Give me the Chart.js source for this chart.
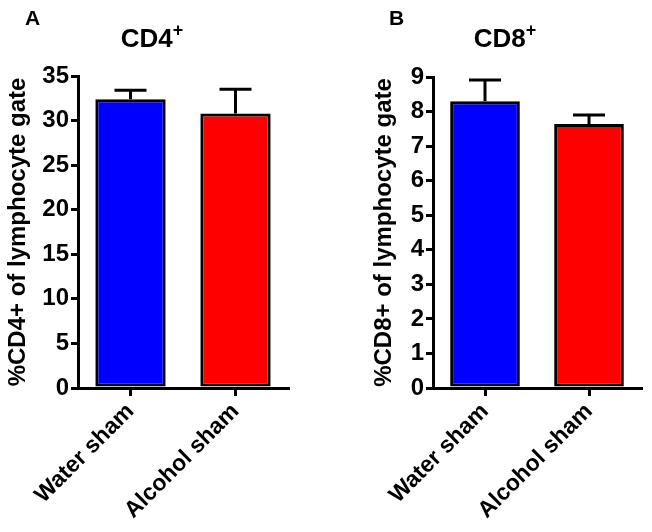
<!DOCTYPE html>
<html>
<head>
<meta charset="utf-8">
<script src="https://cdn.jsdelivr.net/npm/chart.js@4.4.0/dist/chart.umd.min.js"></script>
<style>
    body {
        margin: 0;
        background: #fff;
        font-family: "Liberation Sans", Arial, sans-serif;
    }
    .wrap {
        position: relative;
        width: 652px;
        height: 532px;
        overflow: hidden;
    }
    canvas {
        position: absolute;
        top: 0;
    }
    .letter, .title {
        position: absolute;
        font-weight: bold;
        color: #000;
        line-height: 1;
    }
    .letter {
        font-size: 21px;
        top: 7px;
    }
    .title {
        font-size: 26px;
        top: 25px;
        width: 200px;
        text-align: center;
    }
    .title sup {
        font-size: 18px;
        vertical-align: 0;
        position: relative;
        top: -11px;
    }
</style>
</head>
<body>
<div class="wrap">
    <canvas id="cd4Chart" width="326" height="532" style="left:0"></canvas>
    <canvas id="cd8Chart" width="326" height="532" style="left:326px"></canvas>
    <div class="letter" style="left:25px">A</div>
    <div class="letter" style="left:389px">B</div>
    <div class="title" style="left:52px">CD4<sup>+</sup></div>
    <div class="title" style="left:405px">CD8<sup>+</sup></div>
</div>
<script>
const groups = ["Water sham", "Alcohol sham"];
const barColors = ["#0000ff", "#ff0000"];

const cd4Mean = [32.4, 30.8];
const cd4Sem = [1.0, 2.7];
const cd4Ticks = [0, 5, 10, 15, 20, 25, 30, 35];

const cd8Mean = [8.3, 7.64];
const cd8Sem = [0.61, 0.26];
const cd8Ticks = [0, 1, 2, 3, 4, 5, 6, 7, 8, 9];

// upper error bars only, the lower half is hidden behind the bar
const errorBars = {
    id: "errorBars",
    afterDatasetsDraw(chart, args, opts) {
        const ctx = chart.ctx;
        const yScale = chart.scales.y;
        const meta = chart.getDatasetMeta(0);
        ctx.save();
        ctx.strokeStyle = "#000";
        ctx.lineWidth = 3;
        meta.data.forEach((bar, i) => {
            const top = yScale.getPixelForValue(opts.mean[i] + opts.sem[i]);
            ctx.beginPath();
            ctx.moveTo(bar.x, bar.y);
            ctx.lineTo(bar.x, top);
            ctx.moveTo(bar.x - 16, top);
            ctx.lineTo(bar.x + 16, top);
            ctx.stroke();
        });
        ctx.restore();
    },
};

const makeChart = (id, mean, sem, ticks, yLabel, pad, yWidth) => {
    const ctx = document.getElementById(id).getContext("2d");
    return new Chart(ctx, {
        type: "bar",
        data: {
            labels: groups,
            datasets: [
                {
                    data: mean,
                    backgroundColor: barColors,
                    borderColor: "#000",
                    borderWidth: 3,
                    borderSkipped: false,
                    barPercentage: 0.67,
                    categoryPercentage: 1,
                },
            ],
        },
        options: {
            responsive: false,
            animation: false,
            layout: { padding: pad },
            plugins: {
                legend: { display: false },
                tooltip: { enabled: false },
                errorBars: { mean: mean, sem: sem },
            },
            scales: {
                x: {
                    grid: {
                        offset: false,
                        drawOnChartArea: false,
                        color: "#000",
                        lineWidth: 3,
                        tickLength: 8,
                    },
                    border: { color: "#000", width: 3 },
                    ticks: {
                        autoSkip: false,
                        minRotation: 45,
                        maxRotation: 45,
                        padding: 2,
                        color: "#000",
                        font: { size: 23, weight: "bold", family: "Liberation Sans" },
                    },
                    afterFit: (scale) => {
                        scale.height = 144;
                    },
                },
                y: {
                    min: ticks[0],
                    max: ticks[ticks.length - 1],
                    afterBuildTicks: (scale) => {
                        scale.ticks = ticks.map((v) => ({ value: v }));
                    },
                    grid: {
                        drawOnChartArea: false,
                        color: "#000",
                        lineWidth: 3,
                        tickLength: 7,
                    },
                    border: { color: "#000", width: 3 },
                    ticks: {
                        padding: 2,
                        color: "#000",
                        font: { size: 24, weight: "bold", family: "Liberation Sans" },
                    },
                    title: {
                        display: true,
                        text: yLabel,
                        color: "#000",
                        padding: { top: 4, bottom: 0 },
                        font: { size: 24, weight: "bold", family: "Liberation Sans" },
                    },
                    afterFit: (scale) => {
                        scale.width = yWidth;
                    },
                },
            },
        },
        plugins: [errorBars],
    });
};

makeChart("cd4Chart", cd4Mean, cd4Sem, cd4Ticks, "%CD4+ of lymphocyte gate",
    { left: 0, top: 76, right: 38, bottom: 0 }, 78);
makeChart("cd8Chart", cd8Mean, cd8Sem, cd8Ticks, "%CD8+ of lymphocyte gate",
    { left: 40, top: 77, right: 11, bottom: 0 }, 67);
</script>
</body>
</html>
